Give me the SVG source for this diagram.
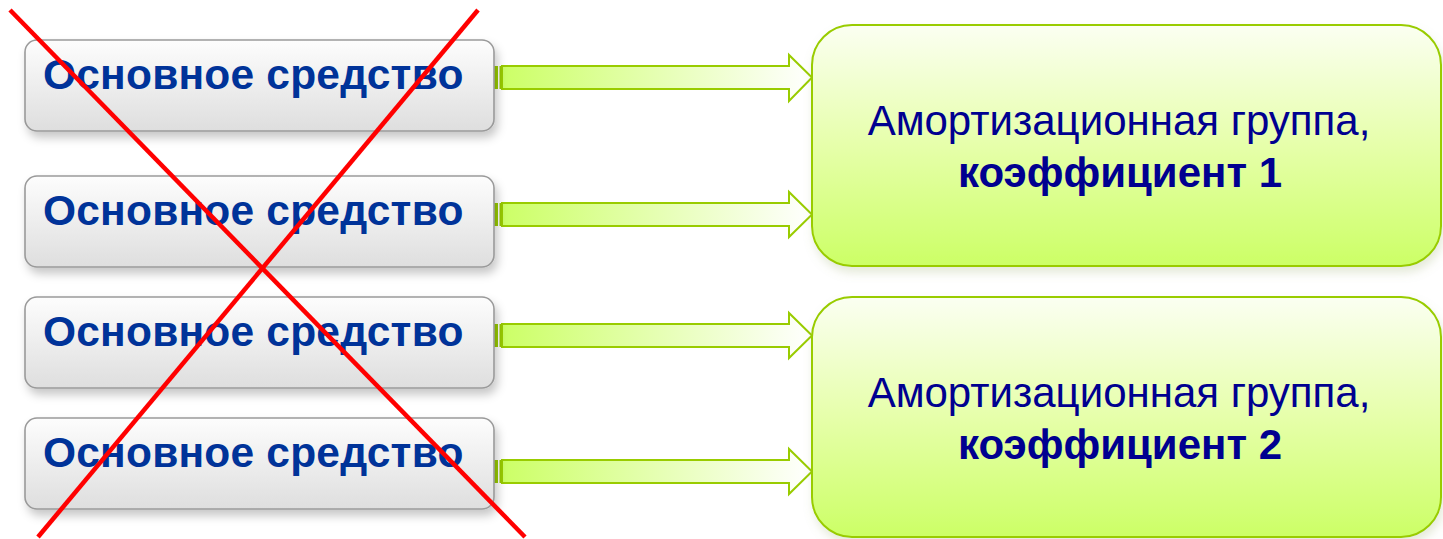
<svg xmlns="http://www.w3.org/2000/svg" width="1443" height="539" viewBox="0 0 1443 539">
  <style>
    .src rect { fill: url(#gGray); stroke: #9a9a9a; stroke-width: 1.6; filter: url(#sh); }
    .src text { font-family: "Liberation Sans", Arial, sans-serif; font-weight: bold; font-size: 42.5px; letter-spacing: 0.2px; fill: #003399; }
    .grp rect { fill: url(#gLime); stroke: #99cc00; stroke-width: 2; filter: url(#sh2); }
    .grp text { font-family: "Liberation Sans", Arial, sans-serif; font-size: 42px; fill: #000090; text-anchor: middle; }
    .grp .b { font-weight: bold; }
    .arr .body { fill: url(#gArrow); stroke: #99cc00; stroke-width: 2; stroke-linejoin: miter; }
    .arr .stripe { fill: #99cc00; }
    .cross line { stroke: #ff0000; stroke-width: 4.5; stroke-linecap: butt; }
  </style>
  <defs>
    <linearGradient id="gGray" x1="0" y1="0" x2="0" y2="1">
      <stop offset="0" stop-color="#fdfdfd"/>
      <stop offset="1" stop-color="#dedede"/>
    </linearGradient>
    <linearGradient id="gLime" x1="0" y1="0" x2="0" y2="1">
      <stop offset="0" stop-color="#fbfff2"/>
      <stop offset="0.5" stop-color="#e6ffaa"/>
      <stop offset="1" stop-color="#ccff66"/>
    </linearGradient>
    <linearGradient id="gArrow" x1="0" y1="0" x2="1" y2="0">
      <stop offset="0" stop-color="#ccff66"/>
      <stop offset="1" stop-color="#ffffff"/>
    </linearGradient>
    <filter id="sh" x="-10%" y="-20%" width="125%" height="150%">
      <feDropShadow dx="3" dy="6" stdDeviation="5" flood-color="#000" flood-opacity="0.22"/>
    </filter>
    <filter id="sh2" x="-10%" y="-10%" width="125%" height="130%">
      <feDropShadow dx="2" dy="6" stdDeviation="5" flood-color="#99aa66" flood-opacity="0.25"/>
    </filter>
  </defs>

  <g id="connectors" class="arr">
    <g id="arrow1">
      <rect class="stripe" x="494" y="66" width="4" height="23"/>
      <rect class="stripe" x="499.5" y="66" width="2" height="23"/>
      <path class="body" d="M502,66 H789 V55 L812,77.5 L789,101 V89 H502 Z"/>
    </g>
    <g id="arrow2">
      <rect class="stripe" x="494" y="203" width="4" height="23"/>
      <rect class="stripe" x="499.5" y="203" width="2" height="23"/>
      <path class="body" d="M502,203 H789 V192 L812,214.5 L789,237 V226 H502 Z"/>
    </g>
    <g id="arrow3">
      <rect class="stripe" x="494" y="324" width="4" height="23"/>
      <rect class="stripe" x="499.5" y="324" width="2" height="23"/>
      <path class="body" d="M502,324 H789 V313 L812,335.5 L789,358 V347 H502 Z"/>
    </g>
    <g id="arrow4">
      <rect class="stripe" x="494" y="460" width="4" height="23"/>
      <rect class="stripe" x="499.5" y="460" width="2" height="23"/>
      <path class="body" d="M502,460 H789 V449 L812,471.5 L789,494 V483 H502 Z"/>
    </g>
  </g>

  <g id="asset1" class="src">
    <rect x="25" y="40" width="469" height="91" rx="12"/>
    <text x="43" y="89">Основное средство</text>
  </g>
  <g id="asset2" class="src">
    <rect x="25" y="176" width="469" height="91" rx="12"/>
    <text x="43" y="225">Основное средство</text>
  </g>
  <g id="asset3" class="src">
    <rect x="25" y="297" width="469" height="91" rx="12"/>
    <text x="43" y="346">Основное средство</text>
  </g>
  <g id="asset4" class="src">
    <rect x="25" y="418" width="469" height="91" rx="12"/>
    <text x="43" y="467">Основное средство</text>
  </g>

  <g id="group1" class="grp">
    <rect x="812" y="25" width="629" height="241" rx="40"/>
    <text x="1119" y="135">Амортизационная группа,</text>
    <text class="b" x="1120" y="187">коэффициент 1</text>
  </g>
  <g id="group2" class="grp">
    <rect x="812" y="297" width="629" height="240" rx="40"/>
    <text x="1119" y="407">Амортизационная группа,</text>
    <text class="b" x="1120" y="459">коэффициент 2</text>
  </g>

  <g id="cross" class="cross">
    <line x1="10" y1="10" x2="525" y2="537"/>
    <line x1="478" y1="10" x2="38" y2="537"/>
  </g>
</svg>
